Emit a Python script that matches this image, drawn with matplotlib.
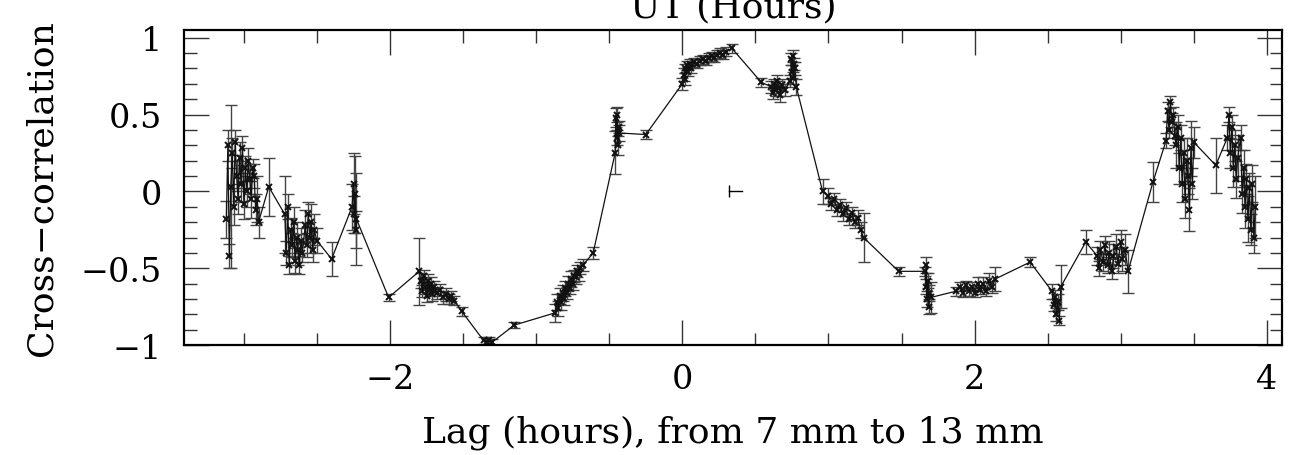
import matplotlib
matplotlib.use("Agg")
import matplotlib.pyplot as plt
from matplotlib.ticker import MultipleLocator

# lag (hours), cross-correlation value and its 1-sigma error
lag = [
    -3.12, -3.11, -3.10, -3.09, -3.08, -3.07, -3.06, -3.05, -3.04, -3.03,
    -3.02, -3.01, -3.00, -2.99, -2.98, -2.97, -2.96, -2.95, -2.94, -2.93,
    -2.92, -2.91, -2.90, -2.83,
    -2.72, -2.71, -2.70, -2.69, -2.68, -2.67, -2.66, -2.65, -2.64, -2.63,
    -2.62, -2.61, -2.60, -2.58, -2.57, -2.56, -2.55, -2.54, -2.53, -2.52,
    -2.50, -2.40,
    -2.26, -2.25, -2.245, -2.24, -2.235, -2.23, -2.01,
    -1.80, -1.79, -1.78, -1.77, -1.76, -1.75, -1.74, -1.73, -1.72, -1.71,
    -1.70, -1.68, -1.66, -1.64, -1.62, -1.60, -1.58, -1.56, -1.51,
    -1.36, -1.34, -1.32, -1.30, -1.15,
    -0.87, -0.86, -0.85, -0.84, -0.83, -0.82, -0.81, -0.80, -0.79, -0.78,
    -0.77, -0.76, -0.75, -0.74, -0.73, -0.72, -0.71, -0.70, -0.68, -0.61,
    -0.46, -0.455, -0.45, -0.445, -0.44, -0.435, -0.43, -0.25,
    0.00, 0.01, 0.015, 0.02, 0.03, 0.04, 0.05, 0.06, 0.08, 0.10,
    0.12, 0.14, 0.16, 0.18, 0.20, 0.22, 0.24, 0.26, 0.28, 0.30, 0.34,
    0.54, 0.61, 0.62, 0.63, 0.64, 0.65, 0.66, 0.67, 0.68, 0.70,
    0.74, 0.745, 0.75, 0.755, 0.76, 0.765, 0.77, 0.78,
    0.96, 1.00, 1.02, 1.04, 1.06, 1.08, 1.10, 1.12, 1.14, 1.16,
    1.18, 1.20, 1.22, 1.24, 1.48,
    1.66, 1.665, 1.67, 1.675, 1.68, 1.685, 1.69, 1.70,
    1.87, 1.90, 1.92, 1.94, 1.96, 1.98, 2.00, 2.02, 2.04, 2.06,
    2.08, 2.10, 2.12, 2.14, 2.38,
    2.53, 2.54, 2.55, 2.56, 2.57, 2.58, 2.59, 2.76,
    2.84, 2.85, 2.86, 2.88, 2.89, 2.91, 2.92, 2.94, 2.95, 2.97,
    2.98, 3.00, 3.01, 3.03, 3.05,
    3.22, 3.31, 3.32, 3.33, 3.34, 3.35, 3.36, 3.37, 3.38, 3.39,
    3.40, 3.41, 3.42, 3.43, 3.44, 3.45, 3.46, 3.47, 3.48, 3.49,
    3.50, 3.65,
    3.73, 3.74, 3.75, 3.76, 3.77, 3.78, 3.79, 3.80, 3.82, 3.83,
    3.84, 3.85, 3.86, 3.87, 3.88, 3.89, 3.90, 3.91, 3.92,
]
corr = [
    -0.18, 0.30, -0.42, 0.03, 0.25, -0.10, 0.32, 0.10, -0.05, 0.22,
    0.05, 0.28, -0.08, 0.15, 0.00, 0.20, 0.08, -0.05, 0.15, 0.10,
    -0.12, -0.05, -0.20, 0.03,
    -0.15, -0.40, -0.10, -0.48, -0.25, -0.35, -0.20, -0.45, -0.30, -0.38,
    -0.48, -0.32, -0.40, -0.22, -0.35, -0.15, -0.30, -0.20, -0.38, -0.25,
    -0.32, -0.44,
    -0.10, 0.05, -0.15, -0.02, -0.25, -0.18, -0.69,
    -0.52, -0.58, -0.65, -0.55, -0.62, -0.68, -0.58, -0.64, -0.60, -0.67,
    -0.62, -0.66, -0.64, -0.69, -0.67, -0.70, -0.68, -0.71, -0.78,
    -0.97, -0.98, -0.97, -0.98, -0.87,
    -0.79, -0.72, -0.76, -0.68, -0.72, -0.66, -0.70, -0.63, -0.66, -0.60,
    -0.63, -0.57, -0.60, -0.55, -0.56, -0.52, -0.54, -0.50, -0.48, -0.40,
    0.25, 0.48, 0.35, 0.50, 0.30, 0.42, 0.38, 0.37,
    0.70, 0.76, 0.80, 0.73, 0.82, 0.78, 0.83, 0.80, 0.84, 0.83,
    0.85, 0.86, 0.85, 0.87, 0.88, 0.87, 0.89, 0.90, 0.89, 0.91, 0.93,
    0.71, 0.68, 0.64, 0.70, 0.66, 0.72, 0.67, 0.63, 0.69, 0.66,
    0.72, 0.86, 0.78, 0.88, 0.74, 0.83, 0.80, 0.68,
    0.00, -0.03, -0.08, -0.05, -0.12, -0.09, -0.15, -0.11, -0.18, -0.14,
    -0.20, -0.17, -0.25, -0.30, -0.52,
    -0.52, -0.62, -0.48, -0.70, -0.58, -0.75, -0.66, -0.69,
    -0.65, -0.62, -0.66, -0.61, -0.65, -0.62, -0.66, -0.60, -0.64, -0.60,
    -0.65, -0.58, -0.62, -0.57, -0.46,
    -0.65, -0.74, -0.69, -0.80, -0.72, -0.84, -0.62, -0.33,
    -0.42, -0.50, -0.38, -0.46, -0.35, -0.48, -0.40, -0.52, -0.42, -0.36,
    -0.47, -0.33, -0.44, -0.38, -0.52,
    0.06, 0.33, 0.52, 0.40, 0.58, 0.45, 0.50, 0.36, 0.30, 0.42,
    0.15, 0.35, 0.05, 0.25, -0.05, 0.20, 0.10, -0.12, 0.28, 0.05,
    0.32, 0.17,
    0.35, 0.50, 0.25, 0.42, 0.15, 0.30, 0.08, 0.22, 0.35, -0.02,
    0.15, -0.10, 0.08, -0.18, 0.02, -0.25, 0.05, -0.30, -0.10,
]
err = [
    0.12, 0.10, 0.08, 0.53, 0.10, 0.12, 0.08, 0.10, 0.10, 0.10,
    0.12, 0.08, 0.10, 0.08, 0.10, 0.08, 0.10, 0.12, 0.06, 0.08,
    0.10, 0.15, 0.10, 0.19,
    0.25, 0.08, 0.08, 0.06, 0.08, 0.08, 0.10, 0.08, 0.10, 0.10,
    0.06, 0.08, 0.06, 0.10, 0.08, 0.08, 0.10, 0.12, 0.08, 0.10,
    0.08, 0.11,
    0.15, 0.20, 0.12, 0.25, 0.12, 0.30, 0.02,
    0.22, 0.05, 0.04, 0.04, 0.05, 0.04, 0.04, 0.04, 0.04, 0.04,
    0.04, 0.04, 0.04, 0.04, 0.04, 0.03, 0.03, 0.03, 0.03,
    0.02, 0.02, 0.02, 0.02, 0.02,
    0.06, 0.05, 0.05, 0.05, 0.05, 0.05, 0.04, 0.05, 0.04, 0.05,
    0.04, 0.05, 0.04, 0.04, 0.04, 0.04, 0.04, 0.04, 0.04, 0.04,
    0.14, 0.06, 0.05, 0.05, 0.06, 0.04, 0.05, 0.03,
    0.04, 0.04, 0.03, 0.04, 0.03, 0.03, 0.03, 0.03, 0.03, 0.03,
    0.03, 0.03, 0.03, 0.03, 0.03, 0.03, 0.03, 0.03, 0.03, 0.03, 0.03,
    0.03, 0.04, 0.04, 0.03, 0.04, 0.04, 0.05, 0.05, 0.04, 0.04,
    0.04, 0.04, 0.04, 0.04, 0.04, 0.04, 0.04, 0.05,
    0.08, 0.05, 0.04, 0.04, 0.04, 0.04, 0.04, 0.04, 0.04, 0.04,
    0.04, 0.05, 0.05, 0.16, 0.03,
    0.03, 0.05, 0.05, 0.05, 0.05, 0.05, 0.05, 0.10,
    0.03, 0.03, 0.03, 0.03, 0.03, 0.03, 0.03, 0.04, 0.03, 0.04,
    0.03, 0.05, 0.04, 0.08, 0.03,
    0.05, 0.04, 0.05, 0.04, 0.05, 0.03, 0.14, 0.08,
    0.06, 0.05, 0.06, 0.06, 0.06, 0.05, 0.08, 0.05, 0.08, 0.08,
    0.06, 0.08, 0.08, 0.10, 0.14,
    0.13, 0.05, 0.06, 0.05, 0.04, 0.06, 0.05, 0.06, 0.15, 0.08,
    0.10, 0.08, 0.12, 0.10, 0.12, 0.15, 0.12, 0.14, 0.18, 0.10,
    0.10, 0.18,
    0.08, 0.05, 0.10, 0.08, 0.12, 0.10, 0.12, 0.15, 0.08, 0.12,
    0.12, 0.14, 0.10, 0.15, 0.10, 0.10, 0.12, 0.10, 0.20,
]

# typical lag uncertainty, drawn as a half bar
lag_bar_x = [0.32, 0.41]
lag_bar_y = [0.0, 0.0]

plt.rcParams["font.family"] = "DejaVu Serif"

fig = plt.figure(figsize=(13.05, 4.56), dpi=100)
ax = fig.add_axes([0.141, 0.241, 0.841, 0.691])

ax.errorbar(lag, corr, yerr=err, fmt="none", ecolor="#444444",
            elinewidth=1.0, capsize=4.5, capthick=1.0)
ax.plot(lag, corr, color="#111111", lw=0.9, marker="x", ms=5, mew=1.4)

ax.plot(lag_bar_x, lag_bar_y, color="black", lw=1.0)
ax.plot(lag_bar_x[0], lag_bar_y[0], marker="|", ms=8, mew=1.0, color="black")

ax.set_xlim(-3.41, 4.1)
ax.set_ylim(-1, 1.05)
ax.xaxis.set_minor_locator(MultipleLocator(0.5))
ax.yaxis.set_minor_locator(MultipleLocator(0.1))
ax.set_yticks([-1, -0.5, 0, 0.5, 1])
ax.set_yticklabels(["\u22121", "\u22120.5", "0", "0.5", "1"])
ax.set_xticks([-2, 0, 2, 4])
ax.set_xticklabels(["\u22122", "0", "2", "4"])

ax.tick_params(which="both", direction="in", top=True, right=True,
               labelsize=24, width=1.0, color="#333333")
ax.tick_params(which="major", length=18)
ax.tick_params(which="minor", length=9)
ax.tick_params(axis="x", pad=13)
ax.tick_params(axis="y", pad=16)
for s in ax.spines.values():
    s.set_linewidth(1.6)

ax.set_xlabel("Lag (hours), from 7 mm to 13 mm", fontsize=26, labelpad=14)
ax.set_ylabel("Cross\u2212correlation", fontsize=26, labelpad=16)
fig.text(0.562, 1 - 17 / 456, "UT (Hours)", fontsize=26,
         ha="center", va="baseline")

fig.savefig("out.png", dpi=100)
